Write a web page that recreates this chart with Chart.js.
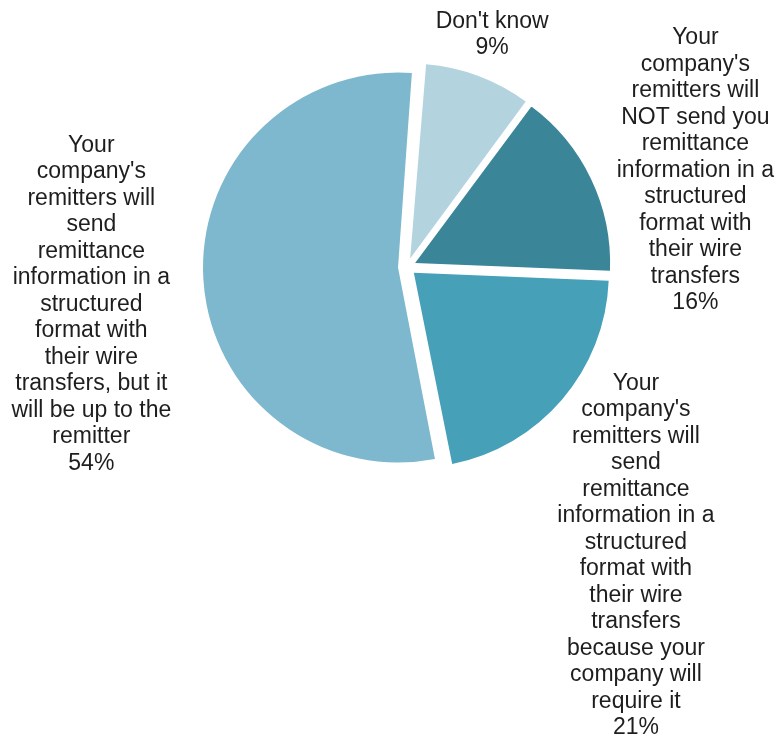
<!DOCTYPE html>
<html lang="en">
<head>
    <meta charset="UTF-8">
    <title>Remittance information</title>
    <script src="https://cdn.jsdelivr.net/npm/chart.js"></script>
    <style>
        html, body { margin: 0; padding: 0; background: #fff; }
        #wrap { position: relative; width: 783px; height: 743px; }
    </style>
</head>
<body>
<div id="wrap"><canvas id="chart"></canvas></div>
<script>
    const categories = [
        "Don't know",
        "Your company's remitters will NOT send you remittance information in a structured format with their wire transfers",
        "Your company's remitters will send remittance information in a structured format with their wire transfers because your company will require it",
        "Your company's remitters will send remittance information in a structured format with their wire transfers, but it will be up to the remitter"
    ];
    // how the category text breaks into lines on the chart
    const labelLines = [
        ["Don't know"],
        ["Your", "company's", "remitters will", "NOT send you", "remittance", "information in a", "structured", "format with", "their wire", "transfers"],
        ["Your", "company's", "remitters will", "send", "remittance", "information in a", "structured", "format with", "their wire", "transfers", "because your", "company will", "require it"],
        ["Your", "company's", "remitters will", "send", "remittance", "information in a", "structured", "format with", "their wire", "transfers, but it", "will be up to the", "remitter"]
    ];
    // shares; labels show them rounded
    const values = [8.9, 15.5, 21.2, 54.4];
    const colors = ['#b3d4df', '#3a8598', '#46a0b8', '#7db8ce'];

    // label placement: turn from slice middle (deg) and distance from centre (in radii)
    const labelTurn = [-0.4, 7.0, 11.1, -3.3];
    const labelDist = [1.27, 1.56, 1.89, 1.63];

    const pieRadius = 195;
    const explode = 36;

    const outsideLabels = {
        id: 'outsideLabels',
        beforeDatasetsDraw(chart) {
            // keep every slice at the same radius once exploded
            const shift = explode / 4;
            chart.getDatasetMeta(0).data.forEach(arc => {
                const fix = 1 - Math.sin(Math.min(Math.PI, arc.circumference));
                arc.outerRadius = pieRadius - shift * fix;
            });
        },
        afterDatasetsDraw(chart) {
            const ctx = chart.ctx;
            const meta = chart.getDatasetMeta(0);
            ctx.save();
            ctx.font = '23px "Liberation Sans", Arial, sans-serif';
            ctx.fillStyle = '#1e1e1e';
            ctx.textAlign = 'center';
            ctx.textBaseline = 'middle';
            const lh = 26.5;
            meta.data.forEach((arc, i) => {
                const mid = (arc.startAngle + arc.endAngle) / 2 + labelTurn[i] * Math.PI / 180;
                const cx = arc.x + Math.cos(mid) * labelDist[i] * pieRadius;
                const cy = arc.y + Math.sin(mid) * labelDist[i] * pieRadius;
                const lines = labelLines[i].concat([Math.round(values[i]) + '%']);
                const top = cy - (lines.length - 1) * lh / 2;
                lines.forEach((t, j) => ctx.fillText(t, cx, top + j * lh));
            });
            ctx.restore();
        }
    };

    const chart = new Chart(document.getElementById('chart'), {
        type: 'pie',
        data: {
            labels: categories,
            datasets: [{
                data: values,
                backgroundColor: colors,
                borderWidth: 0,
                offset: explode,
                radius: pieRadius
            }]
        },
        options: {
            responsive: true,
            maintainAspectRatio: false,
            animation: false,
            rotation: 4.5,
            layout: {
                padding: {left: 207, right: 176, top: 67, bottom: 276}
            },
            plugins: {
                legend: {display: false},
                tooltip: {enabled: false}
            }
        },
        plugins: [outsideLabels]
    });
</script>
</body>
</html>
